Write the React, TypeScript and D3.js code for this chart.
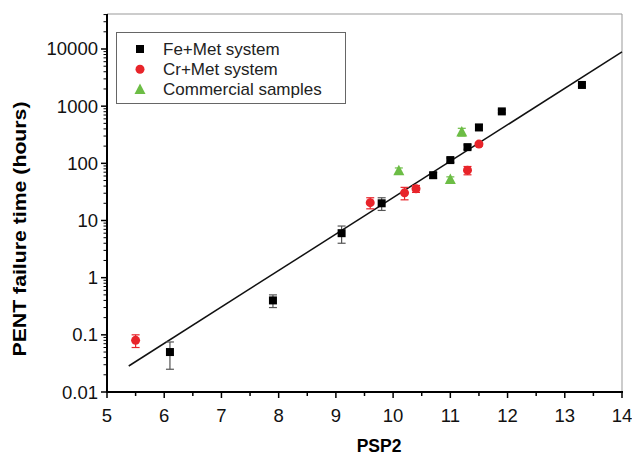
import React from "react";
import * as d3 from "d3";

const feX = [6.1, 7.9, 9.1, 9.8, 10.7, 11.0, 11.3, 11.5, 11.9, 13.3];
const feY = [0.05, 0.4, 6, 20, 62, 114, 192, 425, 810, 2350];
const feLo = [0.025, 0.3, 4, 15, 55, 104, 176, 375, 760, 2200];
const feHi = [0.075, 0.5, 8, 25, 69, 124, 210, 475, 860, 2500];

const crX = [5.5, 9.6, 10.2, 10.4, 11.3, 11.5];
const crY = [0.08, 20.5, 30.5, 36, 76, 217];
const crLo = [0.06, 16, 23, 31, 63, 200];
const crHi = [0.1, 25, 38, 41, 88, 232];

const coX = [10.1, 11.0, 11.2];
const coY = [74, 52, 355];
const coLo = [66, 45, 300];
const coHi = [83, 58, 410];

const fitX = [5.38, 14];
const fitY = [0.0285, 8900];

const xTicks = [5, 6, 7, 8, 9, 10, 11, 12, 13, 14];
const yTicks = [0.01, 0.1, 1, 10, 100, 1000, 10000];
const yTickLabels = ["0.01", "0.1", "1", "10", "100", "1000", "10000"];

const legendLabels = ["Fe+Met system", "Cr+Met system", "Commercial samples"];

const RED = "#e8242a";
const GREEN = "#6cbd45";

export default function App() {
  const W = 632, H = 459;
  const L = 107, R = 622, T = 14, B = 392;
  const x = d3.scaleLinear().domain([5, 14]).range([L, R]);
  const y = d3.scaleLog().domain([0.01, Math.pow(10, 4 + 35 / 57.17)]).range([B, T]);
  const font = "Arial, 'Liberation Sans', Helvetica, sans-serif";

  const minorY: number[] = [];
  for (let e = -2; e <= 4; e++) {
    for (let k = 2; k <= 9; k++) {
      const v = k * Math.pow(10, e);
      if (v <= y.domain()[1]) minorY.push(v);
    }
  }
  const minorX = d3.range(5.5, 14, 1);

  const line = d3.line<number>().x((_, i) => x(fitX[i])).y((_, i) => y(fitY[i]));

  const errBars = (xs: number[], lo: number[], hi: number[], color: string, key: string) =>
    xs.map((xv, i) => {
      const cx = x(xv);
      const y1 = y(lo[i]), y2 = y(hi[i]);
      return (
        <g key={key + i} stroke={color} strokeWidth={1.2}>
          <line x1={cx} x2={cx} y1={y1} y2={y2} />
          <line x1={cx - 4} x2={cx + 4} y1={y1} y2={y1} />
          <line x1={cx - 4} x2={cx + 4} y1={y2} y2={y2} />
        </g>
      );
    });

  const tri = (cx: number, cy: number, s: number) =>
    `M${cx},${cy - s * 0.6}L${cx + s * 0.55},${cy + s * 0.45}L${cx - s * 0.55},${cy + s * 0.45}Z`;

  return (
    <svg width={W} height={H} style={{ position: "absolute", left: 0, top: 0, background: "#fff" }} fontFamily={font}>
      <rect x={0} y={0} width={W} height={H} fill="#fff" />
      {/* frame top/right */}
      <line x1={L} x2={R} y1={T} y2={T} stroke="#999" strokeWidth={1} />
      <line x1={R} x2={R} y1={T} y2={B} stroke="#999" strokeWidth={1} />

      {/* fit line */}
      <path d={line(fitX) || ""} fill="none" stroke="#111" strokeWidth={1.5} />

      {/* error bars */}
      {errBars(feX, feLo, feHi, "#555", "fe")}
      {errBars(crX, crLo, crHi, RED, "cr")}
      {errBars(coX, coLo, coHi, GREEN, "co")}

      {/* markers */}
      {feX.map((xv, i) => (
        <rect key={"fs" + i} x={x(xv) - 4} y={y(feY[i]) - 4} width={8} height={8} fill="#000" />
      ))}
      {crX.map((xv, i) => (
        <circle key={"cs" + i} cx={x(xv)} cy={y(crY[i])} r={4.5} fill={RED} />
      ))}
      {coX.map((xv, i) => (
        <path key={"gs" + i} d={tri(x(xv), y(coY[i]), 10)} fill={GREEN} />
      ))}

      {/* axes */}
      <line x1={L} x2={L} y1={T} y2={B} stroke="#000" strokeWidth={2} />
      <line x1={L - 1} x2={R + 1} y1={B} y2={B} stroke="#000" strokeWidth={2} />
      {yTicks.map((v, i) => (
        <g key={"yt" + i}>
          <line x1={L - 6} x2={L} y1={y(v)} y2={y(v)} stroke="#000" strokeWidth={1.5} />
          <text x={L - 9} y={y(v) + 6.5} fontSize={18.5} textAnchor="end" fill="#111">
            {yTickLabels[i]}
          </text>
        </g>
      ))}
      {minorY.map((v, i) => (
        <line key={"ym" + i} x1={L - 3.5} x2={L} y1={y(v)} y2={y(v)} stroke="#000" strokeWidth={1} />
      ))}
      {xTicks.map((v, i) => (
        <g key={"xt" + i}>
          <line x1={x(v)} x2={x(v)} y1={B} y2={B + 6} stroke="#000" strokeWidth={1.5} />
          <text x={x(v)} y={B + 30} fontSize={18.5} textAnchor="middle" fill="#111">
            {v}
          </text>
        </g>
      ))}
      {minorX.map((v, i) => (
        <line key={"xm" + i} x1={x(v)} x2={x(v)} y1={B} y2={B + 4} stroke="#000" strokeWidth={1.5} />
      ))}

      {/* axis titles */}
      <text x={379} y={452} fontSize={17.5} fontWeight="bold" textAnchor="middle" fill="#000">
        PSP2
      </text>
      <text
        transform={`translate(26,229) rotate(-90)`}
        fontSize={19}
        fontWeight="bold"
        textAnchor="middle"
        fill="#000"
        textLength={255}
        lengthAdjust="spacingAndGlyphs"
      >
        PENT failure time (hours)
      </text>

      {/* legend */}
      <rect x={116.5} y={32.5} width={229} height={71} fill="#fff" stroke="#666" strokeWidth={1} />
      {legendLabels.map((lab, i) => {
        const cy = 49 + i * 20.2;
        return (
          <g key={"lg" + i}>
            {i === 0 && <rect x={136} y={cy - 4} width={8} height={8} fill="#000" />}
            {i === 1 && <circle cx={140} cy={cy} r={4.5} fill={RED} />}
            {i === 2 && <path d={tri(140, cy, 10)} fill={GREEN} />}
            <text x={163} y={cy + 6} fontSize={17} fill="#222">
              {lab}
            </text>
          </g>
        );
      })}
    </svg>
  );
}
